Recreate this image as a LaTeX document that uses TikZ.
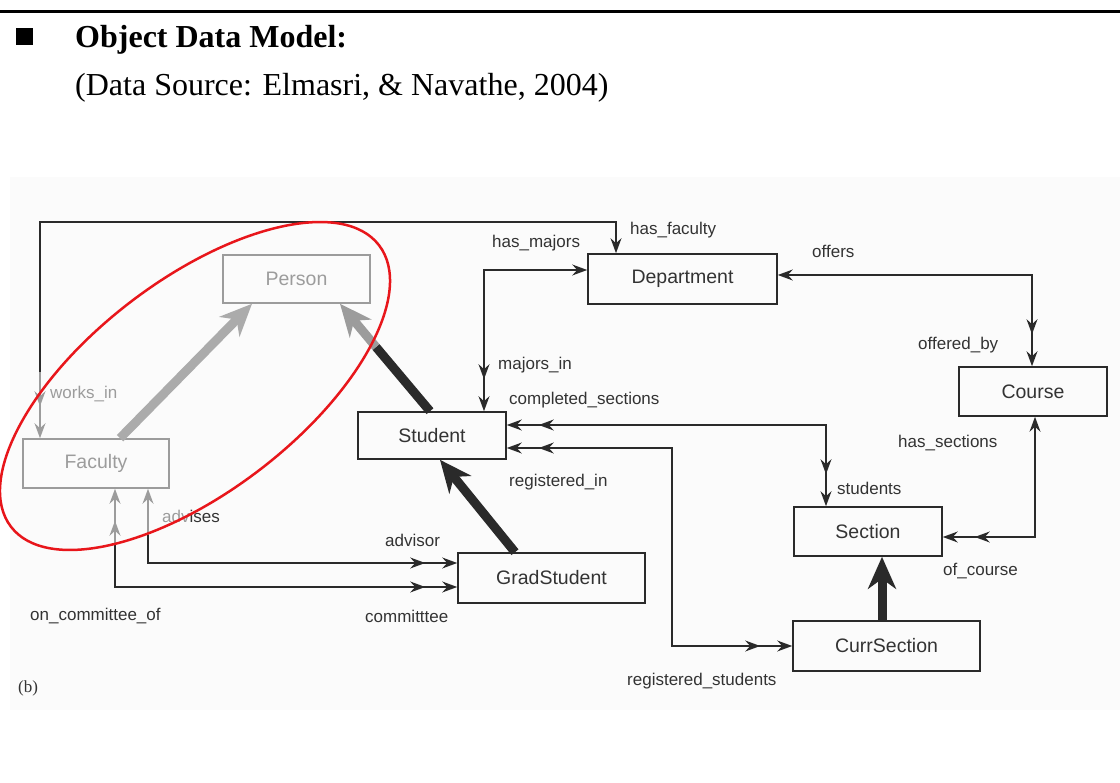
\documentclass[tikz,border=0pt]{standalone}
\usepackage{fontspec}
\setmainfont{Liberation Serif}
\newfontfamily\diagfont{Liberation Sans}
\usetikzlibrary{arrows.meta,decorations.markings}
\definecolor{ink}{HTML}{2A2A2A}
\definecolor{faded}{HTML}{9C9C9C}
\definecolor{txt}{HTML}{333333}
\definecolor{ovalred}{HTML}{E8161B}
\begin{document}
\begin{tikzpicture}[x=1pt,y=-1pt,
  tipS/.tip={Stealth[length=15pt,width=11pt,inset=5pt]},
  tipB/.tip={Stealth[length=32pt,width=28pt,inset=10pt]},
  box/.style={draw=ink,line width=1.6pt,minimum height=49pt,inner sep=0pt,
    font=\diagfont\fontsize{19.5}{22}\selectfont,text=txt},
  fadedbox/.style={box,draw=faded,text=faded},
  lbl/.style={font=\diagfont\fontsize{17}{19}\selectfont,text=txt,anchor=base west,inner sep=0pt},
  conn/.style={draw=ink,line width=1.3pt},
  fconn/.style={conn,draw=faded},
  twoend/.style={postaction={decorate,decoration={markings,mark=at position -32pt with {\arrow{tipS}}}}},
  twostart/.style={postaction={decorate,decoration={markings,mark=at position 32pt with {\arrowreversed{tipS}}}}},
  isa/.style={line width=9pt,-{tipB}},
]
\useasboundingbox (0,0) rectangle (1120,783);
\fill[white] (0,0) rectangle (1120,783);
% header
\draw[line width=3pt] (0,12) -- (1120,12);
\fill (16,28) rectangle (33,45);
\node[anchor=base west,inner sep=0pt,font=\fontsize{32}{36}\selectfont\bfseries] (title) at (75,48) {Object Data Model:};
\node[anchor=base west,inner sep=0pt,font=\fontsize{32}{36}\selectfont] (src) at (75,96) {(Data Source: Elmasri, \& Navathe, 2004)};
% diagram background
\fill[black!1.5] (10,177) rectangle (1120,710);
% boxes
\node[fadedbox,minimum width=147pt,minimum height=48pt] (person) at (296.5,279) {Person};
\node[fadedbox,minimum width=146pt] (faculty) at (96,463.5) {Faculty};
\node[box,minimum width=148pt,minimum height=47pt] (student) at (432,435.5) {Student};
\node[box,minimum width=189pt,minimum height=50pt] (dept) at (682.5,279) {Department};
\node[box,minimum width=148pt] (course) at (1033,391.5) {Course};
\node[box,minimum width=148pt] (section) at (868,531.5) {Section};
\node[box,minimum width=187pt,minimum height=50pt] (grad) at (551.5,578) {GradStudent};
\node[box,minimum width=187pt,minimum height=50pt] (curr) at (886.5,646) {CurrSection};
% coordinates
\coordinate (hfturn) at (40,222);
\coordinate (wisplit) at (40,372);
\coordinate (regturn) at (672,646);
\coordinate (advsplit) at (148,535);
\coordinate (comsplit) at (115,545);
\coordinate (stsplit) at (376,347);
% relationships
\draw[conn,{tipS}-] ([xshift=-66.5pt]dept.north) |- (hfturn) -- (wisplit);
\draw[fconn,-{tipS},twoend] (wisplit) -- (faculty.north -| wisplit);
\draw[conn,{tipS}-{tipS},twoend] ([yshift=9pt]dept.west) -| ([xshift=52pt]student.north);
\draw[conn,{tipS}-{tipS},twoend] ([yshift=4pt]dept.east) -| ([xshift=-1pt]course.north);
\draw[conn,{tipS}-{tipS},twostart,twoend] ([yshift=10.5pt]student.east) -| ([xshift=-42pt]section.north);
\draw[conn,{tipS}-{tipS},twostart,twoend] ([yshift=-12.5pt]student.east) -| (regturn) -- (curr.west);
\draw[conn,{tipS}-{tipS},twoend] ([xshift=2pt]course.south) |- ([yshift=-5.5pt]section.east);
\draw[fconn,{tipS}-] ([xshift=52pt]faculty.south) -- (advsplit);
\draw[conn,-{tipS},twoend] (advsplit) |- ([yshift=15pt]grad.west);
\draw[fconn,{tipS}-,twostart] ([xshift=19pt]faculty.south) -- (comsplit);
\draw[conn,-{tipS},twoend] (comsplit) |- ([yshift=-9pt]grad.west);
% inheritance
\draw[isa,draw=faded!85] ([xshift=24pt]faculty.north) -- ([xshift=-44.5pt]person.south);
\draw[line width=9pt,draw=ink] ([xshift=-2pt]student.north) -- (stsplit);
\draw[isa,draw=faded] (stsplit) -- ([xshift=43.5pt]person.south);
\draw[isa,draw=ink] ([xshift=-36.5pt]grad.north) -- ([xshift=8pt]student.south);
\draw[isa,draw=ink] ([xshift=-4.5pt]curr.north) -- ([xshift=14pt]section.south);
% labels
\node[lbl] (lhf) at (630,235) {has\_faculty};
\node[lbl] (lhm) at (492,248) {has\_majors};
\node[lbl] (lof) at (812,258) {offers};
\node[lbl] (lob) at (918,350) {offered\_by};
\node[lbl] (lmi) at (498,370) {majors\_in};
\node[lbl,text=faded] (lwi) at (50,399) {works\_in};
\node[lbl] (lcs) at (509,405) {completed\_sections};
\node[lbl] (lhs) at (898,448) {has\_sections};
\node[lbl] (lri) at (509,487) {registered\_in};
\node[lbl] (lst) at (837,495) {students};
\node[lbl] (lad) at (162,523) {\textcolor{faded}{adv}ises};
\node[lbl] (lavr) at (385,547) {advisor};
\node[lbl] (loc) at (943,576) {of\_course};
\node[lbl] (lco) at (30,620) {on\_committee\_of};
\node[lbl] (lcm) at (365,622) {committtee};
\node[lbl] (lrs) at (627,685) {registered\_students};
\node[anchor=base west,inner sep=0pt,font=\fontsize{17}{19}\selectfont,text=txt] (lb) at (18,692) {(b)};
% red ellipse
\draw[ovalred,line width=2.5pt,rotate around={37.4:(195,386)}] (195,386) ellipse [x radius=231.7, y radius=105.9];
\end{tikzpicture}
\end{document}
